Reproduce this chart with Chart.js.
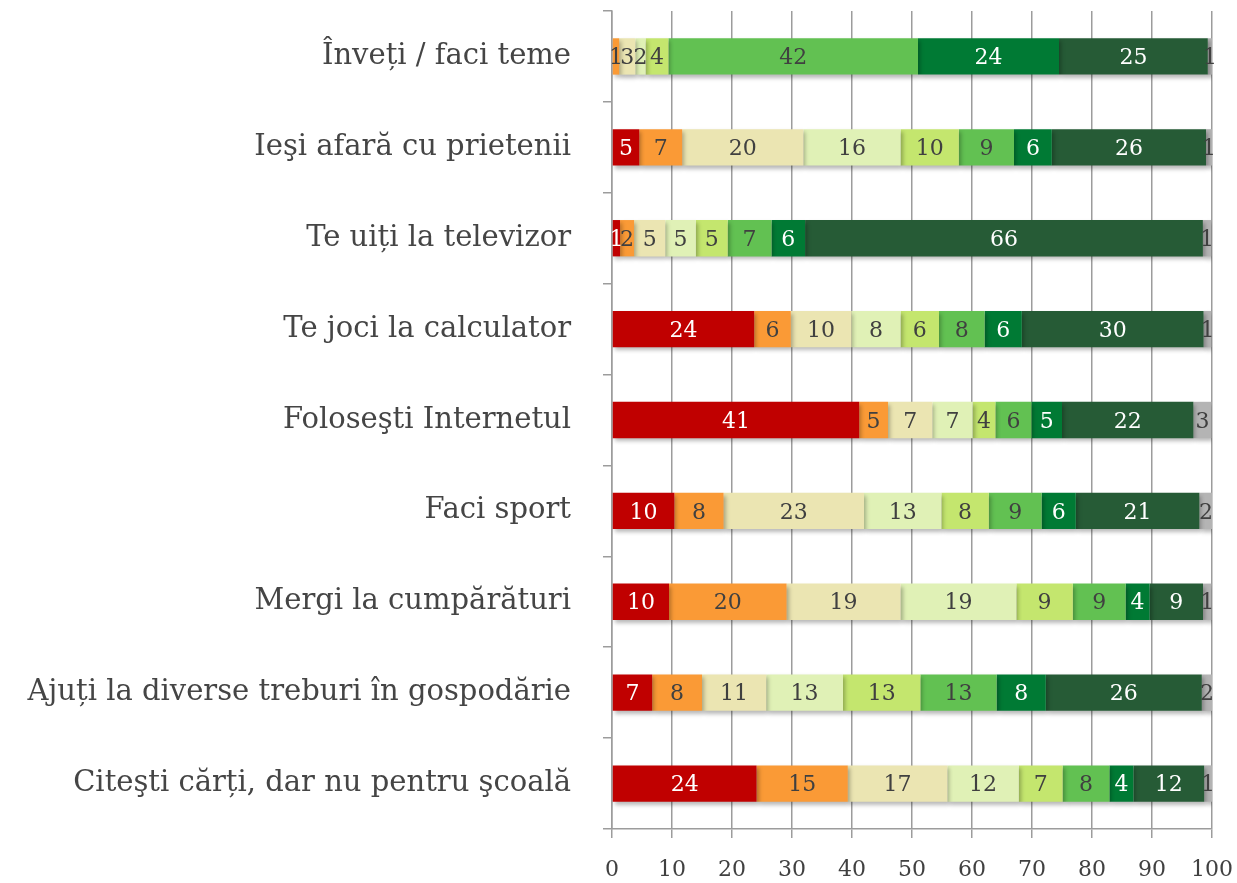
<!DOCTYPE html>
<html>
<head>
<meta charset="utf-8">
<script src="https://cdn.jsdelivr.net/npm/chart.js@4/dist/chart.umd.min.js"></script>
<style>
  html, body { margin: 0; padding: 0; background: #fff; }
  #wrap { width: 1237px; height: 883px; }
</style>
</head>
<body>
<div id="wrap"><canvas id="activityChart"></canvas></div>
<script>
// categories (top to bottom)
const categories = [
  "Înveți / faci teme",
  "Ieşi afară cu prietenii",
  "Te uiți la televizor",
  "Te joci la calculator",
  "Foloseşti Internetul",
  "Faci sport",
  "Mergi la cumpărături",
  "Ajuți la diverse treburi în gospodărie",
  "Citeşti cărți, dar nu pentru şcoală"
];

// series values (% per category)
const red         = [0,    4.55, 1.34, 23.7, 41.2, 10.4, 9.5,  6.7,  24.1];
const orange      = [1.2,  7.15, 2.34, 6.1,  4.8,  8.2,  19.6, 8.3,  15.2];
const beige       = [2.7,  20.2, 5.2,  10.1, 7.4,  23.4, 19.0, 10.7, 16.6];
const lightGreen  = [1.7,  16.2, 5.1,  8.2,  6.7,  12.9, 19.3, 12.8, 11.9];
const yellowGreen = [3.8,  9.7,  5.3,  6.4,  3.8,  7.9,  9.4,  12.9, 7.3];
const midGreen    = [41.6, 9.2,  7.3,  7.6,  6.0,  8.8,  8.8,  12.7, 7.8];
const green       = [23.5, 6.3,  5.6,  6.2,  5.1,  5.7,  4.0,  8.2,  4.0];
const darkGreen   = [24.8, 25.7, 66.3, 30.3, 21.9, 20.6, 8.9,  26.0, 11.8];
const grey        = [0.7,  1.0,  1.4,  1.3,  3.0,  2.2,  1.4,  1.7,  1.3];

const xTicks = [0, 10, 20, 30, 40, 50, 60, 70, 80, 90, 100];

const series = [
  { data: red,         color: "#C00000", text: "#ffffff" },
  { data: orange,      color: "#FA9A36", text: "#404040" },
  { data: beige,       color: "#EBE5B2", text: "#404040" },
  { data: lightGreen,  color: "#E0F1B6", text: "#404040" },
  { data: yellowGreen, color: "#C4E66E", text: "#404040" },
  { data: midGreen,    color: "#62C152", text: "#404040" },
  { data: green,       color: "#007A34", text: "#ffffff" },
  { data: darkGreen,   color: "#265B36", text: "#ffffff" },
  { data: grey,        color: "#B4B4B4", text: "#404040" }
];

const FONT = "'DejaVu Serif', 'Liberation Serif', serif";
const AXIS = "#9c9c9c";

// bar shadow + value labels
const barLabels = {
  id: "barLabels",
  beforeDatasetsDraw(chart) {
    const ctx = chart.ctx;
    ctx.save();
    ctx.shadowColor = "rgba(0,0,0,0.28)";
    ctx.shadowBlur = 4;
    ctx.shadowOffsetX = 2;
    ctx.shadowOffsetY = 3;
  },
  afterDatasetsDraw(chart) {
    const ctx = chart.ctx;
    ctx.restore();
    ctx.save();
    ctx.font = "22px " + FONT;
    ctx.textAlign = "center";
    ctx.textBaseline = "middle";
    chart.data.datasets.forEach((ds, i) => {
      const meta = chart.getDatasetMeta(i);
      meta.data.forEach((bar, j) => {
        const v = Math.round(ds.data[j]);
        if (!v) return;
        const p = bar.getProps(["x", "base", "y"], true);
        ctx.fillStyle = series[i].text;
        ctx.fillText(String(v), (p.x + p.base) / 2, p.y + 2);
      });
    });
    ctx.restore();
  }
};

const ctx = document.getElementById("activityChart").getContext("2d");
new Chart(ctx, {
  type: "bar",
  data: {
    labels: categories,
    datasets: series.map((s) => ({
      data: s.data,
      backgroundColor: s.color,
      borderWidth: 0,
      barPercentage: 0.4,
      categoryPercentage: 1
    }))
  },
  plugins: [barLabels],
  options: {
    indexAxis: "y",
    responsive: true,
    maintainAspectRatio: false,
    animation: false,
    layout: { padding: { top: 11, right: 25, bottom: 0, left: 0 } },
    plugins: {
      legend: { display: false },
      tooltip: { enabled: false }
    },
    scales: {
      x: {
        stacked: true,
        min: 0,
        max: 100,
        afterBuildTicks(scale) {
          scale.ticks = xTicks.map((v) => ({ value: v }));
        },
        afterFit(scale) {
          scale.height = 54;
          scale.paddingLeft = 0;
          scale.paddingRight = 0;
        },
        grid: { color: AXIS, lineWidth: 1.5, tickLength: 9 },
        border: { color: AXIS, width: 1.5 },
        ticks: {
          padding: 19,
          color: "#404040",
          font: { family: FONT, size: 22 }
        }
      },
      y: {
        stacked: true,
        afterFit(scale) {
          scale.width = 612;
          scale.paddingTop = 0;
          scale.paddingBottom = 0;
        },
        grid: { drawOnChartArea: false, color: AXIS, lineWidth: 1.5, tickLength: 9, offset: true },
        border: { color: AXIS, width: 1.5 },
        ticks: {
          padding: 32,
          color: "#454545",
          font: { family: FONT, size: 29 }
        }
      }
    }
  }
});
</script>
</body>
</html>
